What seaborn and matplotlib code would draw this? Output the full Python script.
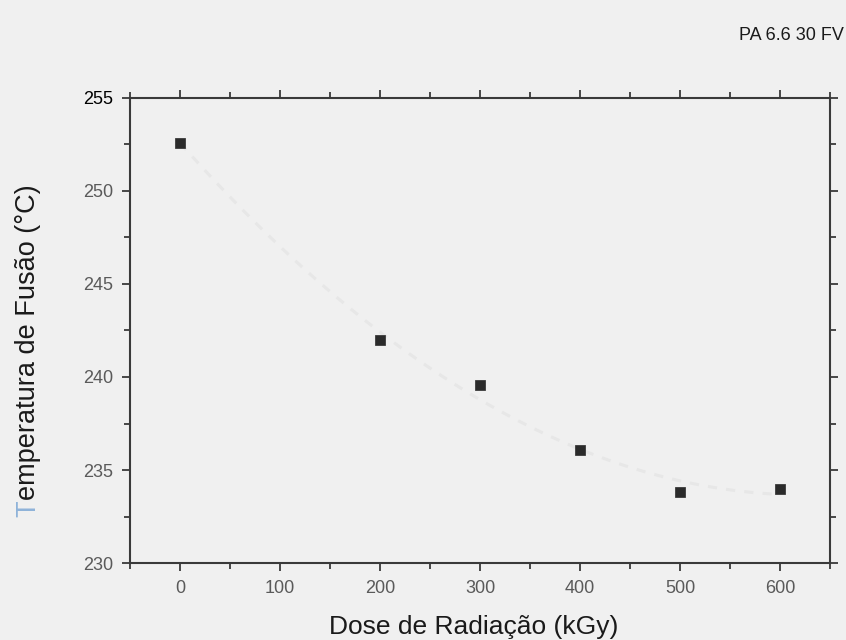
import matplotlib
matplotlib.use("Agg")
import matplotlib.pyplot as plt
import seaborn as sns
import pandas as pd
from matplotlib.ticker import MultipleLocator

dose = [0, 200, 300, 400, 500, 600]
temp = [252.6, 242.0, 239.55, 236.05, 233.8, 234.0]
x_ticks = [0, 100, 200, 300, 400, 500, 600]
y_ticks = [230, 235, 240, 245, 250, 255]

df = pd.DataFrame({"dose": dose, "temp": temp})

sns.set_theme(style="ticks")
plt.rcParams['font.family'] = ['Liberation Sans', 'DejaVu Sans']

bg = "#f0f0f0"
fig = plt.figure(figsize=(8.46, 6.4), dpi=100, facecolor=bg)
ax = fig.add_axes([0.1537, 0.1203, 0.8274, 0.7266])
ax.set_facecolor(bg)

# faint fitted curve
sns.regplot(data=df, x="dose", y="temp", order=2, ci=None, scatter=False,
            ax=ax, truncate=True,
            line_kws=dict(color="#e7e7e7", lw=2.2, ls=(0, (3, 3))))
sns.scatterplot(data=df, x="dose", y="temp", marker="s", s=55,
                color="#2b2b2b", edgecolor="#2b2b2b", linewidth=0.5, ax=ax, zorder=3)

ax.set_xlim(-50, 650)
ax.set_ylim(230, 255)
ax.set_xticks(x_ticks)
ax.set_yticks(y_ticks)
ax.xaxis.set_minor_locator(MultipleLocator(50))
ax.yaxis.set_minor_locator(MultipleLocator(2.5))

for s in ax.spines.values():
    s.set_visible(True)
    s.set_color("#3a3a3a")
    s.set_linewidth(1.5)

ax.tick_params(which="both", direction="out", top=True, right=True,
               color="#3a3a3a", width=1.3)
ax.tick_params(which="major", length=6, labelsize=13, labelcolor="#5a5a5a", pad=6)
ax.tick_params(which="minor", length=4)
ax.tick_params(axis="x", top=True, labeltop=False)
ax.tick_params(axis="y", right=True, labelright=False)

for lbl in ax.get_yticklabels():
    if lbl.get_text() == "255":
        lbl.set_color("black")

ax.set_xlabel("")
ax.set_ylabel("")
fig.text(0.560, 0.009, "Dose de Radiação (kGy)", ha="center", va="baseline",
         fontsize=19, color="#1a1a1a")

# y label: light-blue "T" followed by the rest
fs_y = 19.5
x_base = 0.0414
y0 = 1 - 517 / 640
t1 = fig.text(x_base, y0, "T", rotation=90, rotation_mode="anchor",
              ha="left", va="baseline", fontsize=fs_y, color="#8fb3d9")
fig.canvas.draw()
bb = t1.get_window_extent(renderer=fig.canvas.get_renderer())
y1 = (bb.y1) / fig.bbox.height
fig.text(x_base, y1, "emperatura de Fusão (°C)", rotation=90, rotation_mode="anchor",
         ha="left", va="baseline", fontsize=fs_y, color="#1a1a1a")

fig.text(0.998, 0.945, "PA 6.6 30 FV", ha="right", va="center", fontsize=13, color="#1a1a1a")

fig.savefig("out.png", dpi=100, facecolor=bg)
